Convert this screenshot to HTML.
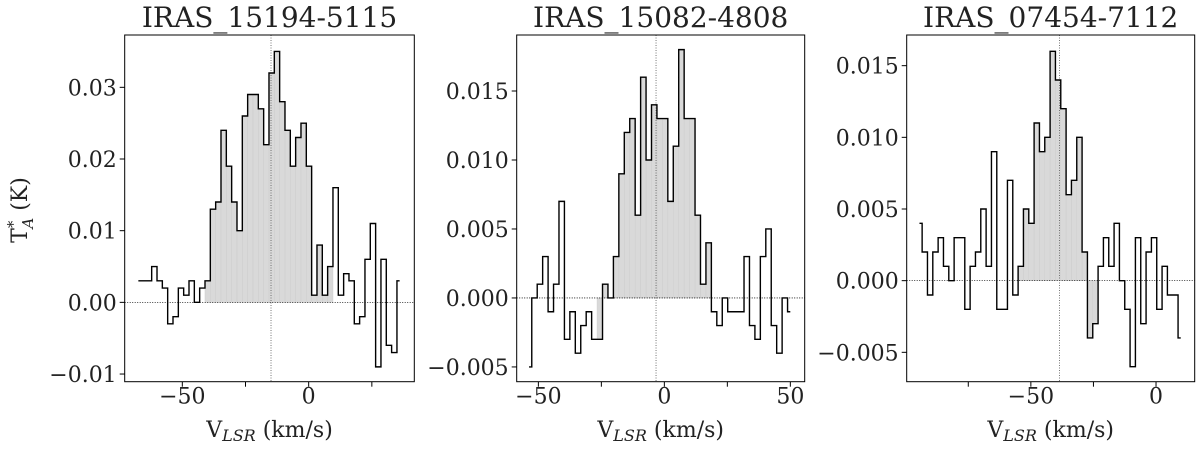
<!DOCTYPE html>
<html><head><meta charset="utf-8">
<style>
html,body{margin:0;padding:0;background:#fff;}
svg{display:block;font-family:"DejaVu Serif","Liberation Serif",serif;}
</style></head>
<body>
<svg id="chart" width="1200" height="450" viewBox="0 0 1200 450" xmlns="http://www.w3.org/2000/svg"></svg>
<script>
// Panel 1: IRAS_15194-5115
const p1Values = [0.003,0.003,0.003,0.005,0.003,0.002,-0.003,-0.002,0.002,0.001,0.003,0,0.002,0.003,0.013,0.014,0.024,0.019,0.014,0.010,0.026,0.029,0.029,0.027,0.022,0.032,0.035,0.028,0.024,0.019,0.023,0.025,0.019,0.001,0.008,0.001,0.005,0.016,0.001,0.004,0.003,-0.003,-0.002,0.006,0.011,-0.009,0.006,-0.006,-0.007,0.003];
const p1Start = -67.4, p1Step = 2.11, p1Center = -14.9, p1Fill = [13,36];
const p1YTicks = [-0.01,0,0.01,0.02,0.03];
const p1YLabels = ["\u22120.01","0.00","0.01","0.02","0.03"];
const p1XTicks = [-50,-25,0,25];
const p1XLabels = ["\u221250","","0",""];
// Panel 2: IRAS_15082-4808
const p2Values = [-0.005,0,0.001,0.003,-0.001,0.001,0.007,-0.003,-0.001,-0.004,-0.002,-0.001,-0.003,-0.003,0.001,0,0.003,0.009,0.012,0.013,0.006,0.016,0.010,0.014,0.013,0.013,0.007,0.011,0.018,0.013,0.013,0.006,0.001,0.004,-0.001,-0.002,0,-0.001,-0.001,-0.001,0.003,-0.002,-0.003,0.003,0.005,-0.002,-0.004,0,-0.001];
const p2Start = -53.7, p2Step = 2.16, p2Center = -3.3, p2Fill = [13,33];
const p2YTicks = [-0.005,0,0.005,0.010,0.015];
const p2YLabels = ["\u22120.005","0.000","0.005","0.010","0.015"];
const p2XTicks = [-50,-25,0,25,50];
const p2XLabels = ["\u221250","","0","","50"];
// Panel 3: IRAS_07454-7112
const p3Values = [0.004,0.002,-0.001,0.002,0.003,0.001,0,0.003,0.003,-0.002,0.001,0.002,0.005,0.001,0.009,-0.002,-0.002,0.007,-0.001,0.001,0.005,0.004,0.011,0.009,0.010,0.016,0.014,0.012,0.006,0.007,0.010,0.002,-0.004,-0.003,0.001,0.003,0.001,0.004,0,-0.002,-0.006,0.003,-0.003,0.002,0.003,-0.002,0.001,-0.001,-0.001,-0.004];
const p3Start = -94.5, p3Step = 2.13, p3Center = -38.6, p3Fill = [19,33];
const p3YTicks = [-0.005,0,0.005,0.010,0.015];
const p3YLabels = ["\u22120.005","0.000","0.005","0.010","0.015"];
const p3XTicks = [-75,-50,-25,0];
const p3XLabels = ["","\u221250","","0"];

const NS="http://www.w3.org/2000/svg";
const svg=document.getElementById('chart');
function mk(tag,attrs,parent){const e=document.createElementNS(NS,tag);for(const k in attrs)e.setAttribute(k,attrs[k]);(parent||svg).appendChild(e);return e;}

const panels=[
 {title:"IRAS_15194-5115",values:p1Values,start:p1Start,step:p1Step,center:p1Center,fill:p1Fill,yt:p1YTicks,yl:p1YLabels,xt:p1XTicks,xl:p1XLabels,
  box:[124.7,35,414.3,381.7],xd:[-72.8,41.8],yd:[-0.01107,0.0373],ytitle:true},
 {title:"IRAS_15082-4808",values:p2Values,start:p2Start,step:p2Step,center:p2Center,fill:p2Fill,yt:p2YTicks,yl:p2YLabels,xt:p2XTicks,xl:p2XLabels,
  box:[516.7,35,804.7,381.7],xd:[-58.6,55.7],yd:[-0.00607,0.01906]},
 {title:"IRAS_07454-7112",values:p3Values,start:p3Start,step:p3Step,center:p3Center,fill:p3Fill,yt:p3YTicks,yl:p3YLabels,xt:p3XTicks,xl:p3XLabels,
  box:[906.7,35,1194.7,381.7],xd:[-99.6,15.45],yd:[-0.00705,0.01714]}
];

panels.forEach((p,pi)=>{
  const [L,T,R,B]=p.box;
  const g=mk('g',{});
  
  
  const X=v=>L+(v-p.xd[0])/(p.xd[1]-p.xd[0])*(R-L);
  const Y=v=>B-(v-p.yd[0])/(p.yd[1]-p.yd[0])*(B-T);
  const n=p.values.length;
  const cx=i=>p.start+i*p.step;
  let fd='';
  for(let i=p.fill[0];i<=p.fill[1];i++){
    const x0=X(cx(i)-p.step/2),x1=X(cx(i)+p.step/2),y0=Y(0),y1=Y(p.values[i]);
    fd+=`M${x0},${y0}L${x0},${y1}L${x1},${y1}L${x1},${y0}Z`;
  }
  const f=mk('path',{d:fd,fill:'#d9d9d9',stroke:'#cfcfcf','stroke-width':0.5},g);
  
  
  const z=mk('line',{x1:L,x2:R,y1:Y(0),y2:Y(0),stroke:'#000','stroke-width':0.8,'stroke-dasharray':'1,1.5'},g);
  
  
  const c=mk('line',{x1:X(p.center),x2:X(p.center),y1:T,y2:B,stroke:'#555','stroke-width':0.8,'stroke-dasharray':'1,1.5'},g);
  
  
  let d=`M${X(cx(0))},${Y(p.values[0])}`;
  for(let i=0;i<n;i++){
    const xa=i===0?X(cx(0)):X(cx(i)-p.step/2);
    const xb=i===n-1?X(cx(i)):X(cx(i)+p.step/2);
    d+=`L${xa},${Y(p.values[i])}L${xb},${Y(p.values[i])}`;
  }
  const s=mk('path',{d:d,fill:'none',stroke:'#000','stroke-width':1.4},g);
  
  
  const bx=mk('rect',{x:L,y:T,width:R-L,height:B-T,fill:'none',stroke:'#000','stroke-width':1},g);
  
  
  p.yt.forEach((v,i)=>{
    const y=Y(v);
    mk('line',{x1:L-5,x2:L,y1:y,y2:y,stroke:'#000','stroke-width':1},g);
    const t=mk('text',{x:L-8,y:y+8,'text-anchor':'end','font-size':22,fill:'#222'},g);
    
    
    t.textContent=p.yl[i];
  });
  p.xt.forEach((v,i)=>{
    const x=X(v);
    mk('line',{x1:x,x2:x,y1:B,y2:B+5,stroke:'#000','stroke-width':1},g);
    if(p.xl[i]){
      const t=mk('text',{x:x,y:B+22,'text-anchor':'middle','font-size':22,fill:'#222'},g);
      
      
      t.textContent=p.xl[i];
    }
  });
  const ti=mk('text',{x:(L+R)/2,y:27,'text-anchor':'middle','font-size':28,fill:'#222'},g);
  
  
  ti.textContent=p.title;
  const xl=mk('text',{x:(L+R)/2,y:437,'text-anchor':'middle','font-size':22,fill:'#222'},g);
  
  
  xl.innerHTML='V<tspan font-size="16" font-style="italic" dy="4">LSR</tspan><tspan dy="-4"> (km/s)</tspan>';
  if(p.ytitle){
    const yl=mk('text',{x:0,y:0,'text-anchor':'middle','font-size':22,fill:'#222',transform:'translate(27,210) rotate(-90)'},g);
    
    
    yl.innerHTML='T<tspan font-size="15" dy="-9">*</tspan><tspan font-size="15" font-style="italic" dx="-8" dy="15">A</tspan><tspan dy="-6"> (K)</tspan>';
  }
});
</script>
</body></html>
